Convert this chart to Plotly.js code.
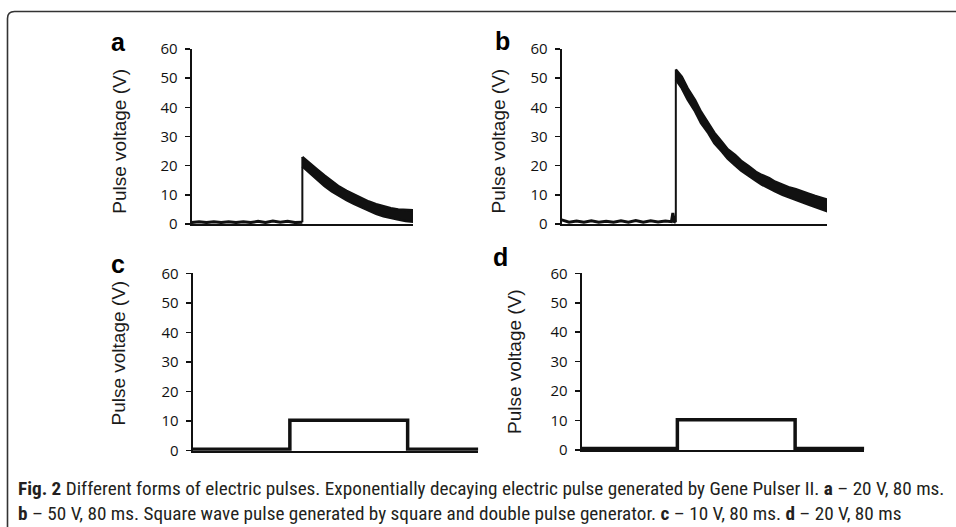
<!DOCTYPE html>
<html><head><meta charset="utf-8">
<script src="https://cdn.plot.ly/plotly-3.0.1.min.js"></script>
<style>html,body{margin:0;padding:0;background:#fff;} #chart{width:956px;height:527px;}</style>
</head><body><div id="chart"></div>
<script>
// ---------- data (times in ms relative to pulse onset, voltages in V) ----------
const yTicks = [0, 10, 20, 30, 40, 50, 60];
const yTitleText = 'Pulse voltage (V)';
const panelLetters = ['a', 'b', 'c', 'd'];

// Panel a: exponentially decaying pulse, ~20 V
const aBaseTime = [-75, -70, -65, -60, -55, -50, -45, -40, -35, -30, -25, -20, -15, -10, -5, 0];
const aBaseVolt = [0.5, 0.8, 0.5, 0.8, 0.5, 0.8, 0.5, 0.8, 0.5, 0.9, 0.5, 1.0, 0.6, 0.9, 0.5, 0.6];
const aDecayTime  = [0, 5, 10, 15, 20, 25, 30, 35, 40, 45, 50, 55, 60, 65, 70, 75];
const aDecayUpper = [23.0, 21.0, 18.7, 16.6, 14.6, 12.8, 11.4, 10.1, 8.9, 7.7, 6.8, 6.0, 5.4, 5.0, 4.8, 4.7];
const aDecayLower = [19.8, 17.6, 15.2, 13.0, 11.2, 9.6, 8.2, 6.9, 5.7, 4.6, 3.5, 2.6, 2.0, 1.5, 1.0, 0.8];

// Panel b: exponentially decaying pulse, ~50 V
const bBaseTime = [-77, -72, -67, -62, -57, -52, -47, -42, -37, -32, -27, -22, -17, -12, -7, -3, -2, -1, 0];
const bBaseVolt = [1.4, 0.6, 1.0, 0.6, 1.1, 0.6, 0.9, 0.6, 1.1, 0.6, 1.2, 0.6, 1.1, 0.7, 1.0, 0.8, 3.8, 0.8, 0.6];
const bDecayTime  = [0, 4, 8, 13, 17, 22, 26, 31, 35, 40, 44, 49, 54, 58, 63, 67, 72, 76, 81, 85, 90, 94, 99, 102];
const bDecayUpper = [53.0, 50.5, 46.5, 42.5, 38.5, 34.7, 31.3, 28.2, 25.6, 23.7, 21.7, 19.9, 17.9, 16.8, 15.7, 14.5, 13.4, 12.6, 11.9, 11.1, 10.3, 9.6, 8.8, 8.4];
const bDecayLower = [49.5, 46.6, 42.6, 38.6, 34.6, 31.1, 27.7, 24.9, 22.4, 20.1, 18.3, 16.6, 14.8, 13.5, 12.1, 11.2, 10.0, 9.1, 8.3, 7.5, 6.6, 5.8, 5.0, 4.4];

// Panel c: square wave pulse, 80 ms
const cTime = [-66, 0, 80, 128];
const cVolt = [0.5, 10.3, 0.5, 0.5];

// Panel d: square wave pulse, 80 ms
const dTime = [-65, 0, 80, 127];
const dVolt = [0.5, 10.3, 0.5, 0.5];

const captionLine1 = '<b>Fig. 2</b> Different forms of electric pulses. Exponentially decaying electric pulse generated by Gene Pulser II. <b>a</b> – 20 V, 80 ms.';
const captionLine2 = '<b>b</b> – 50 V, 80 ms. Square wave pulse generated by square and double pulse generator. <b>c</b> – 10 V, 80 ms. <b>d</b> – 20 V, 80 ms';

// ---------- helpers ----------
const W = 956, H = 527;
const px = v => v / W;
const py = v => 1 - v / H;
const INK = '#111';

function decayTraces(baseT, baseV, decT, up, low, xa, ya) {
  const bandX = decT.concat(decT.slice().reverse());
  const bandY = up.concat(low.slice().reverse());
  return [
    {x: baseT, y: baseV, xaxis: xa, yaxis: ya, mode: 'lines', line: {color: INK, width: 3}, hoverinfo: 'skip'},
    {x: [decT[0], decT[0]], y: [baseV[baseV.length - 1], up[0]], xaxis: xa, yaxis: ya, mode: 'lines', line: {color: INK, width: 2}, hoverinfo: 'skip'},
    {x: bandX, y: bandY, xaxis: xa, yaxis: ya, mode: 'lines', fill: 'toself', fillcolor: INK, line: {color: INK, width: 2.5}, hoverinfo: 'skip'}
  ];
}
function stepTrace(t, v, xa, ya) {
  return {x: t, y: v, xaxis: xa, yaxis: ya, mode: 'lines', line: {color: INK, width: 3.5, shape: 'hv'}, hoverinfo: 'skip'};
}

const data = [].concat(
  decayTraces(aBaseTime, aBaseVolt, aDecayTime, aDecayUpper, aDecayLower, 'x', 'y'),
  decayTraces(bBaseTime, bBaseVolt, bDecayTime, bDecayUpper, bDecayLower, 'x2', 'y2'),
  [stepTrace(cTime, cVolt, 'x3', 'y3'), stepTrace(dTime, dVolt, 'x4', 'y4')]
);

function xAx(x0, x1, range) {
  return {domain: [px(x0), px(x1)], range: range, showline: true, linewidth: 2, linecolor: INK,
    showticklabels: false, ticks: '', showgrid: false, zeroline: false, fixedrange: true};
}
function yAx(y0, y1) {
  return {domain: [py(y0), py(y1)], range: [0, 60], tickvals: yTicks, ticks: 'outside', ticklen: 5, tickwidth: 1.5,
    tickcolor: INK, showline: true, linewidth: 2, linecolor: INK, showgrid: false, zeroline: false, fixedrange: true,
    ticklabelstandoff: 4, tickfont: {family: 'Open Sans, sans-serif', size: 15, color: '#111'}};
}

const layout = {
  width: W, height: H, margin: {l: 0, r: 0, t: 0, b: 0},
  paper_bgcolor: '#fff', plot_bgcolor: '#fff', showlegend: false,
  xaxis:  Object.assign(xAx(191.7, 413, [aBaseTime[0], aDecayTime[aDecayTime.length - 1]]), {anchor: 'y'}),
  yaxis:  Object.assign(yAx(224, 49), {anchor: 'x'}),
  xaxis2: Object.assign(xAx(561.7, 827, [bBaseTime[0], bDecayTime[bDecayTime.length - 1]]), {anchor: 'y2'}),
  yaxis2: Object.assign(yAx(224, 49), {anchor: 'x2'}),
  xaxis3: Object.assign(xAx(192.7, 478.3, [cTime[0], cTime[cTime.length - 1]]), {anchor: 'y3'}),
  yaxis3: Object.assign(yAx(450.7, 273.3), {anchor: 'x3'}),
  xaxis4: Object.assign(xAx(581.7, 864.3, [dTime[0], dTime[dTime.length - 1]]), {anchor: 'y4'}),
  yaxis4: Object.assign(yAx(450, 273.3), {anchor: 'x4'}),
  shapes: [{
    type: 'path', xref: 'paper', yref: 'paper', layer: 'above',
    path: `M ${px(7.5)},${py(540)} L ${px(7.5)},${py(18.5)} Q ${px(7.5)},${py(11.5)} ${px(14.5)},${py(11.5)} L ${px(970)},${py(11.5)}`,
    line: {color: '#333', width: 1.6}
  }],
  annotations: []
};

const letterPos = [[118.5, 42], [502.5, 41], [117.5, 264], [501, 257]];
letterPos.forEach((p, i) => layout.annotations.push({
  xref: 'paper', yref: 'paper', x: px(p[0]), y: py(p[1]), xanchor: 'center', yanchor: 'middle', showarrow: false,
  text: '<b>' + panelLetters[i] + '</b>', font: {family: 'Liberation Sans, Arial, sans-serif', size: 25, color: '#000'}
}));
const titlePos = [[118.7, 141], [497.5, 141], [117.5, 353], [514, 362]];
titlePos.forEach(p => layout.annotations.push({
  xref: 'paper', yref: 'paper', x: px(p[0]), y: py(p[1]), xanchor: 'center', yanchor: 'middle', showarrow: false,
  textangle: -90, text: yTitleText, font: {family: 'Liberation Sans, Arial, sans-serif', size: 19, color: '#1a1a1a'}
}));
[[captionLine1, 488], [captionLine2, 513]].forEach(c => layout.annotations.push({
  xref: 'paper', yref: 'paper', x: px(16), y: py(c[1]), xanchor: 'left', yanchor: 'middle', showarrow: false,
  text: c[0], font: {family: 'Liberation Sans Narrow, Roboto Condensed, Liberation Sans, sans-serif', size: 19.2, color: '#231f20'}
}));

Plotly.newPlot('chart', data, layout, {displayModeBar: false, staticPlot: true});
</script>
</body></html>
